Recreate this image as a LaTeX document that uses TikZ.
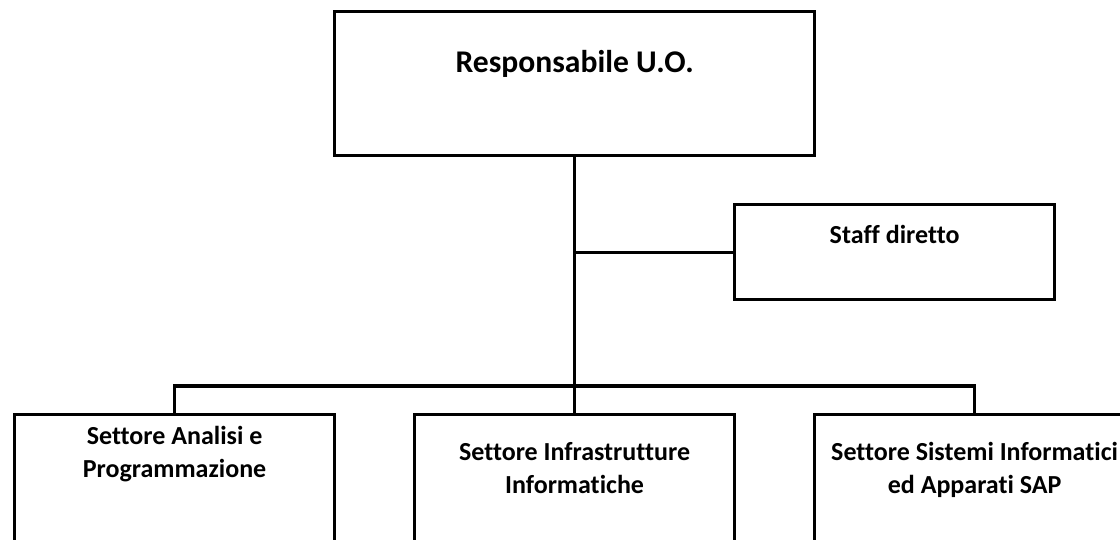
\documentclass[tikz,border=0pt]{standalone}
\usepackage{fontspec}
\setmainfont{Carlito}[Ligatures=NoCommon]
\usetikzlibrary{positioning}

\begin{document}
\begin{tikzpicture}[x=1pt,y=-1pt,
  box/.style={draw, line width=3.2pt, inner sep=0pt, minimum width=320pt, anchor=north west},
  conn/.style={line width=3.2pt},
  lbl/.style={font=\bfseries\fontsize{26}{32.5}\selectfont, align=center, inner sep=0pt, anchor=base}]
\useasboundingbox (0,0) rectangle (1120,539);
\clip (0,0) rectangle (1120,539);
\node[box, minimum width=480pt, minimum height=144pt] (r0) at (333,10) {};
\node[box, minimum height=95pt] (s0) at (733,203) {};
\node[box, minimum height=200pt] (a0) at (13,413) {};
\node[box, minimum height=200pt] (a1) at (413,413) {};
\node[box, minimum height=200pt] (a2) at (813,413) {};
\node[lbl, font=\bfseries\fontsize{31.6}{38}\selectfont, below=62pt of r0.north, anchor=base] (t0) {Responsabile U.O.};
\node[lbl, below=40pt of s0.north, anchor=base] (t1) {Staff diretto};
\node[lbl, below=64pt of a0.north, anchor=base] (t2) {Settore Analisi e\\Programmazione};
\node[lbl, below=80pt of a1.north, anchor=base] (t3) {Settore Infrastrutture\\Informatiche};
\node[lbl, below=80pt of a2.north, anchor=base] (t4) {Settore Sistemi Informatici\\ed Apparati SAP};
\coordinate (bus) at ([yshift=27pt]a1.north);
\draw[conn] (r0.south) -- (a1.north);
\draw[conn] (s0.west) -- (r0.south |- s0.west);
\draw[conn] (a0.north) |- (bus) -| (a2.north);
\end{tikzpicture}
\end{document}
